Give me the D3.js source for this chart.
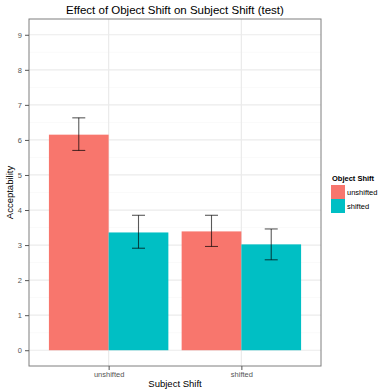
<!DOCTYPE html>
<html>
<head>
<meta charset="utf-8">
<script src="https://cdn.jsdelivr.net/npm/d3@7"></script>
<style>
  body { margin: 0; background: #fff; }
  svg text { font-family: "Liberation Sans", Arial, sans-serif; }
</style>
</head>
<body>
<svg id="chart" width="380" height="390"></svg>
<script>
/* ---------- data ---------- */
const subjectShift = ["unshifted", "shifted"];
const objectShift = ["unshifted", "shifted"];
const fillColors = ["#F8766D", "#00BFC4"];
// mean acceptability, one value per subject shift level
const meanObjUnshifted = [6.15, 3.39];
const meanObjShifted = [3.36, 3.02];
const lowObjUnshifted = [5.70, 2.96];
const highObjUnshifted = [6.63, 3.85];
const lowObjShifted = [2.91, 2.58];
const highObjShifted = [3.85, 3.46];
const yTicks = [0, 1, 2, 3, 4, 5, 6, 7, 8, 9];

const rows = [];
subjectShift.forEach((s, i) => {
  rows.push({ subj: s, obj: objectShift[0], mean: meanObjUnshifted[i], lo: lowObjUnshifted[i], hi: highObjUnshifted[i] });
  rows.push({ subj: s, obj: objectShift[1], mean: meanObjShifted[i], lo: lowObjShifted[i], hi: highObjShifted[i] });
});

/* ---------- layout ---------- */
const panel = { left: 29, top: 19, right: 321, bottom: 366 };
const svg = d3.select("#chart");

const x = d3.scalePoint().domain(subjectShift).range([panel.left, panel.right]).padding(0.6);
const step = x.step();
const xInner = d3.scaleBand().domain(objectShift).range([-0.45 * step, 0.45 * step]);
const y = d3.scaleLinear().domain([-0.45, 9.45]).range([panel.bottom, panel.top]);
const color = d3.scaleOrdinal().domain(objectShift).range(fillColors);

/* ---------- grid ---------- */
const minor = d3.range(0, 9.5, 0.5).filter((v) => v % 1 !== 0);
svg.selectAll("line.minor").data(minor).join("line")
  .attr("x1", panel.left).attr("x2", panel.right)
  .attr("y1", (d) => y(d)).attr("y2", (d) => y(d))
  .attr("stroke", "#fafafa").attr("stroke-width", 1);
svg.selectAll("line.hmajor").data(yTicks).join("line")
  .attr("x1", panel.left).attr("x2", panel.right)
  .attr("y1", (d) => y(d)).attr("y2", (d) => y(d))
  .attr("stroke", "#ebebeb").attr("stroke-width", 1.2);
svg.selectAll("line.vmajor").data(subjectShift).join("line")
  .attr("x1", (d) => x(d)).attr("x2", (d) => x(d))
  .attr("y1", panel.top).attr("y2", panel.bottom)
  .attr("stroke", "#ebebeb").attr("stroke-width", 1.2);

/* ---------- bars ---------- */
svg.selectAll("rect.bar").data(rows).join("rect")
  .attr("class", "bar")
  .attr("x", (d) => x(d.subj) + xInner(d.obj))
  .attr("width", xInner.bandwidth())
  .attr("y", (d) => y(d.mean))
  .attr("height", (d) => y(0) - y(d.mean))
  .attr("fill", (d) => color(d.obj));

/* ---------- error bars ---------- */
const eb = svg.selectAll("g.err").data(rows).join("g")
  .attr("class", "err")
  .attr("transform", (d) => `translate(${x(d.subj) + xInner(d.obj) + xInner.bandwidth() / 2},0)`)
  .attr("stroke", "#000").attr("stroke-opacity", 0.65).attr("stroke-width", 1.1);
eb.append("line").attr("x1", 0).attr("x2", 0).attr("y1", (d) => y(d.lo)).attr("y2", (d) => y(d.hi));
eb.append("line").attr("x1", -6.5).attr("x2", 6.5).attr("y1", (d) => y(d.lo)).attr("y2", (d) => y(d.lo));
eb.append("line").attr("x1", -6.5).attr("x2", 6.5).attr("y1", (d) => y(d.hi)).attr("y2", (d) => y(d.hi));

/* ---------- border + axes ---------- */
svg.append("rect")
  .attr("x", panel.left).attr("y", panel.top)
  .attr("width", panel.right - panel.left).attr("height", panel.bottom - panel.top)
  .attr("fill", "none").attr("stroke", "#7f7f7f").attr("stroke-width", 1);

const yAxis = svg.append("g")
  .attr("transform", `translate(${panel.left},0)`)
  .call(d3.axisLeft(y).tickValues(yTicks).tickSize(4).tickPadding(3));
const xAxis = svg.append("g")
  .attr("transform", `translate(0,${panel.bottom})`)
  .call(d3.axisBottom(x).tickSize(4).tickPadding(2));
[yAxis, xAxis].forEach((a) => {
  a.select(".domain").remove();
  a.selectAll(".tick line").attr("stroke", "#555");
  a.selectAll(".tick text").attr("fill", "#555").style("font-size", "7.5px");
});

/* ---------- titles ---------- */
svg.append("text")
  .attr("x", (panel.left + panel.right) / 2).attr("y", 14)
  .attr("text-anchor", "middle").style("font-size", "11.5px").attr("fill", "#000")
  .text("Effect of Object Shift on Subject Shift (test)");
svg.append("text")
  .attr("x", (panel.left + panel.right) / 2).attr("y", 387)
  .attr("text-anchor", "middle").style("font-size", "9.5px")
  .text("Subject Shift");
svg.append("text")
  .attr("transform", `translate(13,${(panel.top + panel.bottom) / 2}) rotate(-90)`)
  .attr("text-anchor", "middle").style("font-size", "9.5px")
  .text("Acceptability");

/* ---------- legend ---------- */
const leg = svg.append("g").attr("transform", "translate(331,170)");
leg.append("text").attr("x", 1).attr("y", 11)
  .style("font-size", "7.5px").style("font-weight", "bold").text("Object Shift");
const items = leg.selectAll("g.item").data(objectShift).join("g")
  .attr("transform", (d, i) => `translate(0,${15 + i * 14})`);
items.append("rect").attr("width", 14).attr("height", 14).attr("fill", (d) => color(d));
items.append("text").attr("x", 16).attr("y", 10).style("font-size", "7.5px").text((d) => d);
</script>
</body>
</html>
